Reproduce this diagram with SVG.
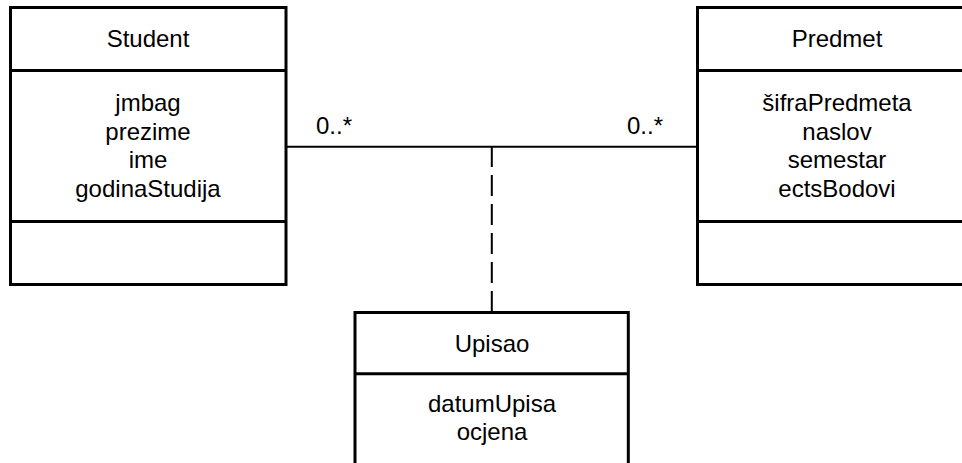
<svg xmlns="http://www.w3.org/2000/svg" width="962" height="463" viewBox="0 0 962 463">
<style>
.box{fill:#fff;stroke:#000;stroke-width:3}
.div{stroke:#000;stroke-width:3}
.t{font-family:"Liberation Sans",Arial,sans-serif;font-size:24px;fill:#000;text-anchor:middle}
.m{font-family:"Liberation Sans",Arial,sans-serif;font-size:24px;fill:#000}
.conn{stroke:#000;stroke-width:2;fill:none}
</style>
<rect x="0" y="0" width="962" height="463" fill="#fff"/>
<g id="connectors">
<line class="conn" x1="286" y1="146.7" x2="697" y2="146.7"/>
<line class="conn" x1="491.8" y1="312" x2="491.8" y2="146.7" stroke-dasharray="21 8"/>
<text class="m" x="316" y="134">0..*</text>
<text class="m" x="627" y="134">0..*</text>
</g>
<g id="student">
<rect class="box" x="10.5" y="7.5" width="275.5" height="277"/>
<line class="div" x1="10.5" y1="70.5" x2="286" y2="70.5"/>
<line class="div" x1="10.5" y1="221.5" x2="286" y2="221.5"/>
<text class="t" x="148" y="47">Student</text>
<text class="t" x="148" y="111">jmbag</text>
<text class="t" x="148" y="140">prezime</text>
<text class="t" x="148" y="168">ime</text>
<text class="t" x="148" y="197">godinaStudija</text>
</g>
<g id="predmet">
<rect class="box" x="697.5" y="7.5" width="279" height="277"/>
<line class="div" x1="697.5" y1="70.5" x2="976.5" y2="70.5"/>
<line class="div" x1="697.5" y1="221.5" x2="976.5" y2="221.5"/>
<text class="t" x="837" y="47">Predmet</text>
<text class="t" x="837" y="111">šifraPredmeta</text>
<text class="t" x="837" y="140">naslov</text>
<text class="t" x="837" y="168">semestar</text>
<text class="t" x="837" y="197">ectsBodovi</text>
</g>
<g id="upisao">
<rect class="box" x="355" y="312.5" width="273.3" height="180"/>
<line class="div" x1="355" y1="373.8" x2="628.3" y2="373.8"/>
<text class="t" x="492" y="352">Upisao</text>
<text class="t" x="492" y="412">datumUpisa</text>
<text class="t" x="492" y="440">ocjena</text>
</g>
</svg>
